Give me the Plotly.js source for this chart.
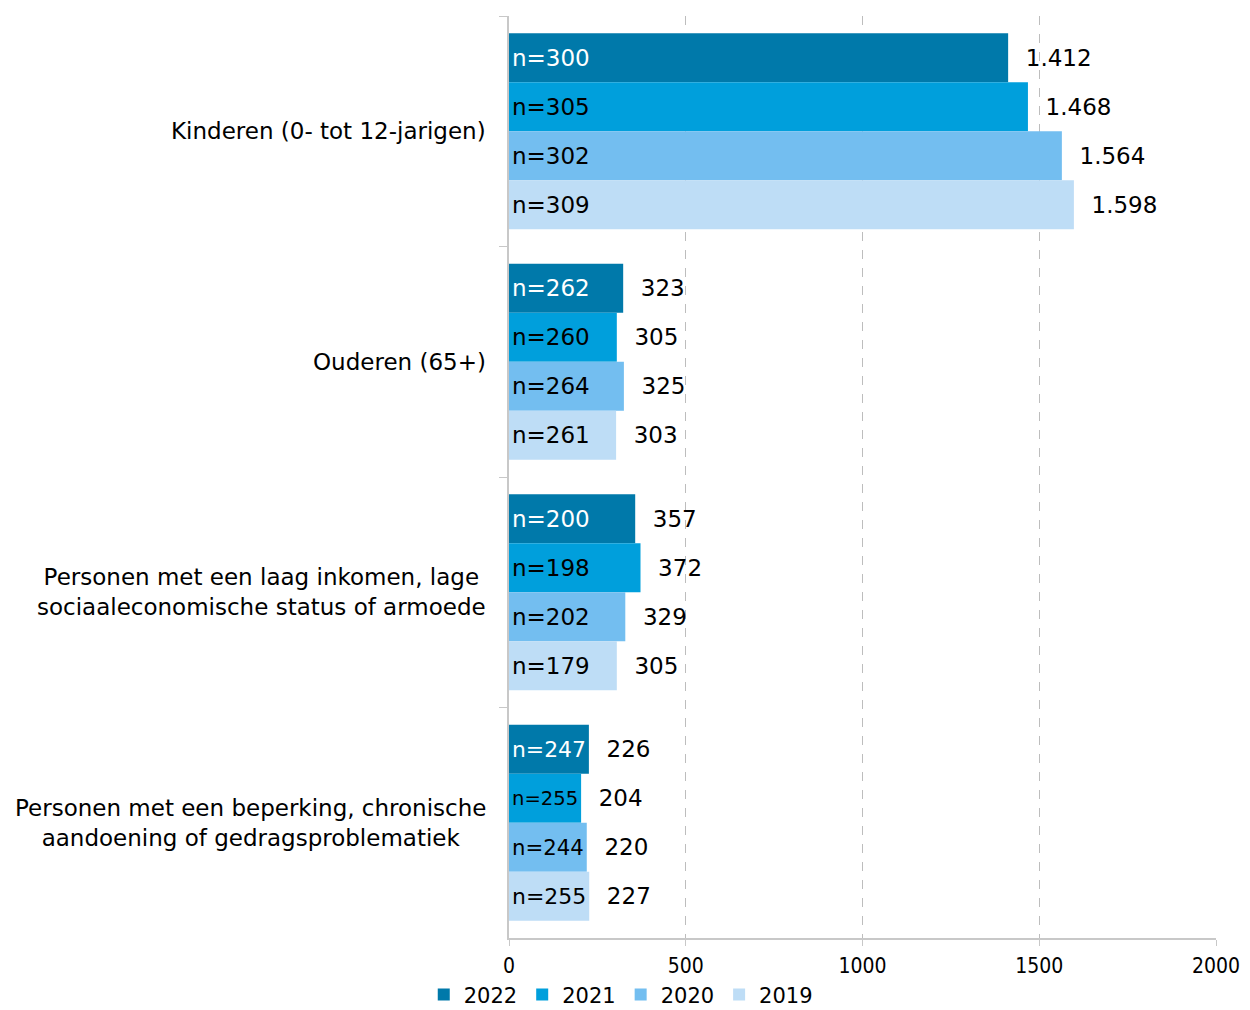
<!DOCTYPE html>
<html>
<head>
<meta charset="utf-8">
<script src="https://cdn.plot.ly/plotly-3.0.1.min.js"></script>
<style>html,body{margin:0;padding:0;background:#fff;}#chart{width:1250px;height:1010px;}</style>
</head>
<body>
<div id="chart"></div>
<script>
const categories = [
  "Kinderen (0- tot 12-jarigen)",
  "Ouderen (65+)",
  "Personen met een laag inkomen, lage<br>sociaaleconomische status of armoede",
  "Personen met een beperking, chronische<br>aandoening of gedragsproblematiek"
];
const years = ["2022", "2021", "2020", "2019"];
const values2022 = [1412, 323, 357, 226];
const values2021 = [1468, 305, 372, 204];
const values2020 = [1564, 325, 329, 220];
const values2019 = [1598, 303, 305, 227];
const n2022 = [300, 262, 200, 247];
const n2021 = [305, 260, 198, 255];
const n2020 = [302, 264, 202, 244];
const n2019 = [309, 261, 179, 255];
const xTicks = [0, 500, 1000, 1500, 2000];

const colors = ["#0079AA", "#009FDC", "#73BEF0", "#BEDDF6"];
const insideColors = ["#ffffff", "#000000", "#000000", "#000000"];
const allValues = [values2022, values2021, values2020, values2019];
const allN = [n2022, n2021, n2020, n2019];
const FONT = "DejaVu Sans";
const FS = 23;

const traces = [];
years.forEach((yr, i) => {
  traces.push({
    type: "bar", orientation: "h", name: yr,
    y: categories, x: allValues[i],
    marker: {color: colors[i]},
    text: allN[i].map(v => "n=" + v),
    textposition: "inside", insidetextanchor: "start", textangle: 0,
    insidetextfont: {family: FONT, size: FS, color: insideColors[i]},
    hoverinfo: "skip", yaxis: "y", xaxis: "x"
  });
});
years.forEach((yr, i) => {
  traces.push({
    type: "bar", orientation: "h", name: yr + "_lbl", showlegend: false,
    y: categories, x: allValues[i],
    marker: {color: "rgba(0,0,0,0)"},
    texttemplate: "\u00a0\u00a0%{x:,}",
    textposition: "outside", textangle: 0, cliponaxis: false,
    outsidetextfont: {family: FONT, size: FS, color: "#000000"},
    hoverinfo: "skip", yaxis: "y2", xaxis: "x"
  });
});

const annotations = categories.map(c => ({
  xref: "paper", yref: "y", x: -0.03, y: c,
  xanchor: "right", yanchor: "middle", align: "center",
  text: c, showarrow: false,
  font: {family: FONT, size: FS, color: "#000000"}
}));

const layout = {
  width: 1250, height: 1010,
  margin: {l: 509, r: 34, t: 16, b: 72, pad: 0, autoexpand: false},
  paper_bgcolor: "#ffffff", plot_bgcolor: "#ffffff",
  separators: ",.",
  barmode: "group", bargap: 0.15, bargroupgap: 0,
  showlegend: true,
  legend: {orientation: "h", xref: "container", yref: "container",
           x: 0.339, xanchor: "left", y: 0.0149, yanchor: "middle",
           bgcolor: "rgba(0,0,0,0)",
           font: {family: FONT, size: 21, color: "#000000"}, traceorder: "normal",
           itemwidth: 30, tracegroupgap: 0},
  xaxis: {
    range: [0, 2000], tickvals: xTicks, ticktext: xTicks.map(String),
    showgrid: true, gridcolor: "#bdbdbd", griddash: "dash", gridwidth: 1,
    showline: true, linecolor: "#c8c8c8", linewidth: 2,
    ticks: "outside", ticklen: 6, tickcolor: "#c8c8c8", tickwidth: 1,
    ticklabelstandoff: 2,
    zeroline: false,
    tickfont: {family: "DejaVu Sans Condensed", size: 21, color: "#000000"}
  },
  yaxis: {
    type: "category", categoryorder: "array", categoryarray: categories,
    autorange: "reversed",
    showticklabels: false, showgrid: false, zeroline: false,
    showline: true, linecolor: "#c8c8c8", linewidth: 2,
    ticks: "outside", tickson: "boundaries", ticklen: 8, tickcolor: "#c8c8c8", tickwidth: 1
  },
  yaxis2: {
    type: "category", categoryorder: "array", categoryarray: categories,
    autorange: "reversed", overlaying: "y", matches: "y", visible: false
  },
  annotations: annotations
};

Plotly.newPlot("chart", traces, layout, {displayModeBar: false, staticPlot: true});
</script>
</body>
</html>
